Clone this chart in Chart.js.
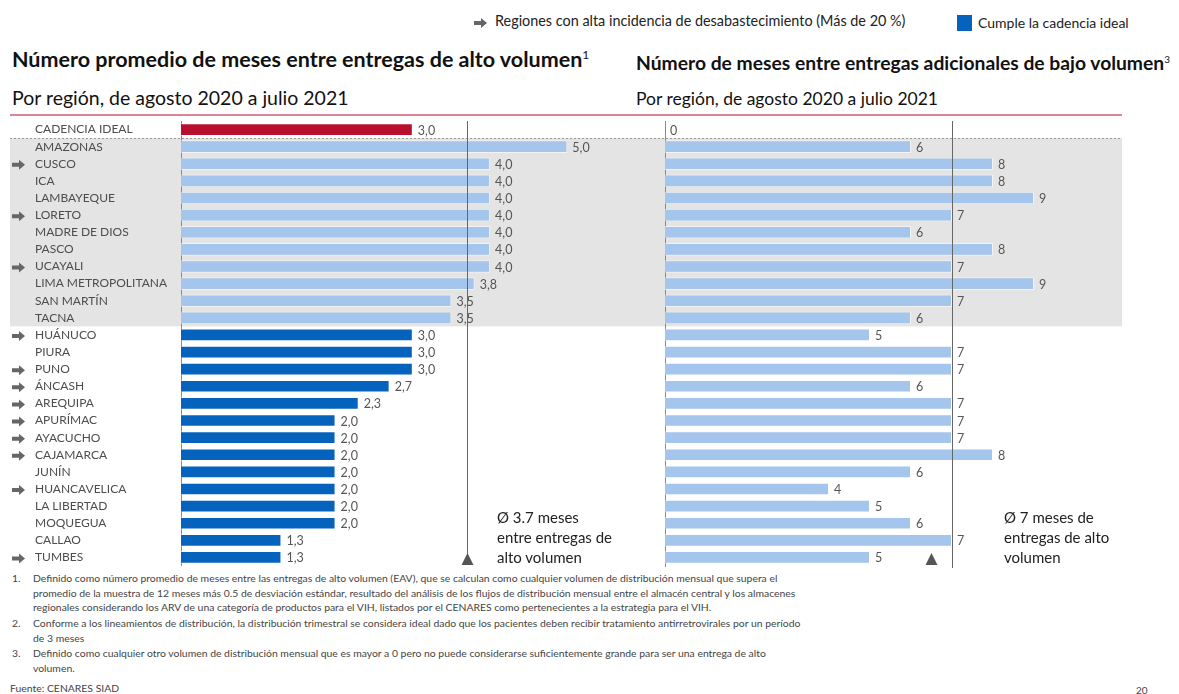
<!DOCTYPE html>
<html>
<head>
<meta charset="utf-8">
<script src="https://cdn.jsdelivr.net/npm/chart.js@4.4.0/dist/chart.umd.min.js"></script>
<style>
body{margin:0;width:1179px;height:694px;position:relative;background:#fff;font-family:Lato,"Open Sans",sans-serif;overflow:hidden;color:#111}
.abs{position:absolute;white-space:nowrap}
.title{font-weight:bold}
.sub{font-weight:normal}
.note{font-size:15px;line-height:20px;color:#222}
.foot{font-size:10.4px;color:#444;line-height:14.5px}
.foot .n{position:absolute;left:0}
.foot .t{position:absolute;left:21px}
canvas{position:absolute}
</style>
</head>
<body>

<svg class="abs" style="left:474px;top:17px" width="14" height="12"><path d="M0 4 H7 V1 L13 6 L7 11 V8 H0 Z" fill="#666"/></svg>
<div class="abs" style="left:495px;top:12px;font-size:14.4px;color:#222">Regiones con alta incidencia de desabastecimiento (Más de 20 %)</div>
<div class="abs" style="left:957px;top:15px;width:15px;height:16px;background:#0563be"></div>
<div class="abs" style="left:978px;top:14px;font-size:14px;color:#222">Cumple la cadencia ideal</div>

<div class="abs title" style="left:12px;top:46px;font-size:21.5px">Número promedio de meses entre entregas de alto volumen<sup style="font-size:12px;font-weight:normal">1</sup></div>
<div class="abs title" style="left:636px;top:51px;font-size:19.3px">Número de meses entre entregas adicionales de bajo volumen<sup style="font-size:10px;font-weight:normal">3</sup></div>
<div class="abs sub" style="left:12px;top:86px;font-size:19.5px">Por región, de agosto 2020 a julio 2021</div>
<div class="abs sub" style="left:636px;top:88px;font-size:17.5px">Por región, de agosto 2020 a julio 2021</div>
<div class="abs" style="left:10px;top:114px;width:1112px;height:2px;background:#d98595"></div>

<canvas id="leftChart" style="left:0;top:121px"></canvas>
<canvas id="rightChart" style="left:630px;top:121px"></canvas>

<div class="abs note" style="left:497px;top:507px">Ø 3.7 meses<br>entre entregas de<br>alto volumen</div>
<div class="abs note" style="left:1004px;top:507px">Ø 7 meses de<br>entregas de alto<br>volumen</div>

<div class="abs foot" style="left:12px;top:571px;width:800px;height:120px">
  <div class="n" style="top:0">1.</div>
  <div class="t" style="top:0">Definido como número promedio de meses entre las entregas de alto volumen (EAV), que se calculan como cualquier volumen de distribución mensual que supera el<br>promedio de la muestra de 12 meses más 0.5 de desviación estándar, resultado del análisis de los flujos de distribución mensual entre el almacén central y los almacenes<br>regionales considerando los ARV de una categoría de productos para el VIH, listados por el CENARES como pertenecientes a la estrategia para el VIH.</div>
  <div class="n" style="top:45px">2.</div>
  <div class="t" style="top:45px">Conforme a los lineamientos de distribución, la distribución trimestral se considera ideal dado que los pacientes deben recibir tratamiento antirretrovirales por un período<br>de 3 meses</div>
  <div class="n" style="top:75px">3.</div>
  <div class="t" style="top:75px">Definido como cualquier otro volumen de distribución mensual que es mayor a 0 pero no puede considerarse suficientemente grande para ser una entrega de alto<br>volumen.</div>
  <div class="n" style="top:110px;left:-2px">Fuente: CENARES SIAD</div>
</div>
<div class="abs" style="left:1136px;top:684px;font-size:10px;color:#444">20</div>

<script>
const regions = ["CADENCIA IDEAL","AMAZONAS","CUSCO","ICA","LAMBAYEQUE","LORETO","MADRE DE DIOS","PASCO","UCAYALI","LIMA METROPOLITANA","SAN MARTÍN","TACNA","HUÁNUCO","PIURA","PUNO","ÁNCASH","AREQUIPA","APURÍMAC","AYACUCHO","CAJAMARCA","JUNÍN","HUANCAVELICA","LA LIBERTAD","MOQUEGUA","CALLAO","TUMBES"];

const altoVolumen = [3.0,5.0,4.0,4.0,4.0,4.0,4.0,4.0,4.0,3.8,3.5,3.5,3.0,3.0,3.0,2.7,2.3,2.0,2.0,2.0,2.0,2.0,2.0,2.0,1.3,1.3];

const bajoVolumen = [0,6,8,8,9,7,6,8,7,9,7,6,5,7,7,6,7,7,7,8,6,4,5,6,7,5];

// regiones con alta incidencia de desabastecimiento (flecha)
const altaIncidencia = [false,false,true,false,false,true,false,false,true,false,false,false,true,false,true,true,true,true,true,true,false,true,false,false,false,true];

const promedioAlto = 3.7;
const promedioBajo = 7;

const RED = "#b80f2e";
const LIGHT = "#a4c5ec";
const DARK = "#0563be";
const TXT = "#555";

const leftColors = altoVolumen.map((v,i) => i === 0 ? RED : (v > 3 ? LIGHT : DARK));
const rightColors = bajoVolumen.map(() => LIGHT);

function setSize(c, w, h){
    c.width = w; c.height = h;
    c.style.width = w + "px"; c.style.height = h + "px";
}

// gray band for the rows that do not meet the ideal cadence
function bandPlugin(x0, x1){
    return {
        id:"band",
        beforeDraw(chart){
            const ctx = chart.ctx, y = chart.scales.y;
            const step = y.getPixelForValue(1) - y.getPixelForValue(0);
            const top = y.getPixelForValue(1) - step/2;
            const bot = y.getPixelForValue(11) + step/2;
            ctx.save();
            ctx.fillStyle = "#e4e4e4";
            ctx.fillRect(x0, top, x1 - x0, bot - top);
            ctx.strokeStyle = "#999";
            ctx.setLineDash([2,2]);
            ctx.lineWidth = 1;
            ctx.beginPath();
            ctx.moveTo(x0, Math.round(top) + 0.5);
            ctx.lineTo(x1, Math.round(top) + 0.5);
            ctx.stroke();
            ctx.restore();
        }
    };
}

function labelPlugin(fmt){
    return {
        id:"vlabels",
        afterDatasetsDraw(chart){
            const ctx = chart.ctx;
            const meta = chart.getDatasetMeta(0);
            const data = chart.data.datasets[0].data;
            ctx.save();
            ctx.font = "12.5px Lato";
            ctx.fillStyle = TXT;
            ctx.textBaseline = "middle";
            meta.data.forEach((bar,i) => {
                ctx.fillText(fmt(data[i]), bar.x + 5, bar.y + 1);
            });
            ctx.restore();
        }
    };
}

function refLinePlugin(value, bottomPad, triOffset){
    return {
        id:"refline",
        afterDatasetsDraw(chart){
            const ctx = chart.ctx, x = chart.scales.x, a = chart.chartArea;
            const px = Math.round(x.getPixelForValue(value)) + 0.5;
            ctx.save();
            ctx.strokeStyle = "#666";
            ctx.lineWidth = 1;
            ctx.beginPath();
            ctx.moveTo(px, 0);
            ctx.lineTo(px, a.bottom - bottomPad);
            ctx.stroke();
            const tx = px + triOffset, ty = a.bottom - 1;
            ctx.fillStyle = "#555";
            ctx.beginPath();
            ctx.moveTo(tx - 6, ty);
            ctx.lineTo(tx + 6, ty);
            ctx.lineTo(tx, ty - 12);
            ctx.closePath();
            ctx.fill();
            ctx.restore();
        }
    };
}

const arrowPlugin = {
    id:"arrows",
    afterDraw(chart){
        const ctx = chart.ctx, y = chart.scales.y;
        ctx.save();
        ctx.fillStyle = "#666";
        altaIncidencia.forEach((f,i) => {
            if(!f) return;
            const cy = y.getPixelForValue(i) + 1, x0 = 12;
            ctx.beginPath();
            ctx.moveTo(x0, cy - 2);
            ctx.lineTo(x0 + 7, cy - 2);
            ctx.lineTo(x0 + 7, cy - 5);
            ctx.lineTo(x0 + 13, cy);
            ctx.lineTo(x0 + 7, cy + 5);
            ctx.lineTo(x0 + 7, cy + 2);
            ctx.lineTo(x0, cy + 2);
            ctx.closePath();
            ctx.fill();
        });
        ctx.restore();
    }
};

const lc = document.getElementById("leftChart");
setSize(lc, 630, 445);
new Chart(lc,{
    type:"bar",
    data:{
        labels:regions,
        datasets:[{
            data:altoVolumen,
            backgroundColor:leftColors,
            borderColor:"rgba(255,255,255,0.55)",
            borderWidth:1,
            barPercentage:0.74,
            categoryPercentage:1
        }]
    },
    options:{
        indexAxis:"y",
        responsive:false,
        animation:false,
        layout:{padding:{left:35,right:24,top:0,bottom:0}},
        plugins:{legend:{display:false},tooltip:{enabled:false}},
        scales:{
            x:{display:false,min:0,max:5.5},
            y:{
                grid:{display:false},
                border:{display:true,color:"#888",width:1},
                ticks:{crossAlign:"far",color:"#4d4d4d",font:{family:"Lato",size:12},padding:0,autoSkip:false},
                afterFit(s){ s.width = 146; s.paddingTop = 0; s.paddingBottom = 0; }
            }
        }
    },
    plugins:[bandPlugin(10,630), labelPlugin(v => v.toFixed(1).replace(".",",")), refLinePlugin(promedioAlto, 12, 0), arrowPlugin]
});

const rc = document.getElementById("rightChart");
setSize(rc, 549, 447);
new Chart(rc,{
    type:"bar",
    data:{
        labels:regions,
        datasets:[{
            data:bajoVolumen,
            backgroundColor:rightColors,
            borderColor:"rgba(255,255,255,0.55)",
            borderWidth:1,
            barPercentage:0.74,
            categoryPercentage:1
        }]
    },
    options:{
        indexAxis:"y",
        responsive:false,
        animation:false,
        layout:{padding:{left:34,right:63,top:0,bottom:2}},
        plugins:{legend:{display:false},tooltip:{enabled:false}},
        scales:{
            x:{display:false,min:0,max:11},
            y:{
                grid:{display:false},
                border:{display:true,color:"#888",width:1},
                ticks:{display:false},
                afterFit(s){ s.width = 1; }
            }
        }
    },
    plugins:[bandPlugin(0,492), labelPlugin(v => String(v)), refLinePlugin(promedioBajo, -2, -21)]
});
</script>
</body>
</html>
